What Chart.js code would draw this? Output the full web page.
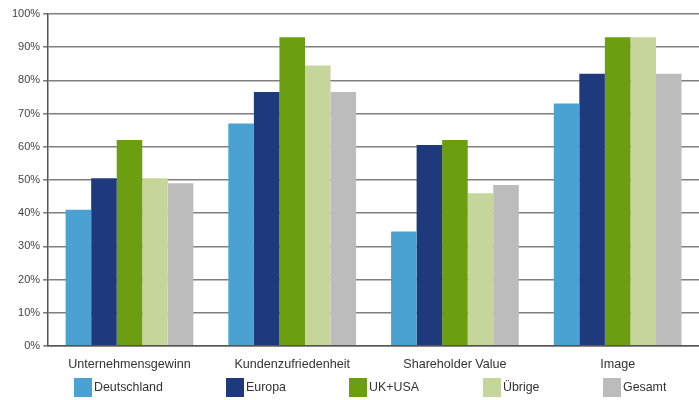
<!DOCTYPE html>
<html>
<head>
<meta charset="utf-8">
<script src="https://cdn.jsdelivr.net/npm/chart.js@4"></script>
<style>
  html, body { margin: 0; padding: 0; background: #fff; }
  #wrap { position: relative; width: 699px; height: 400px; }
  #legend { position: absolute; left: 0; top: 378px; width: 699px; height: 20px;
            font-family: 'Liberation Sans', Arial, sans-serif; font-size: 12.4px; color: #333; }
  .item { position: absolute; top: 0; height: 19px; line-height: 19px; white-space: nowrap; }
  .box { display: inline-block; width: 18px; height: 19px; vertical-align: top; margin-right: 2px; }
</style>
</head>
<body>
<div id="wrap">
  <canvas id="chart"></canvas>
  <div id="legend"></div>
</div>
<script>
// categories and series (share in %)
var categories = ["Unternehmensgewinn", "Kundenzufriedenheit", "Shareholder Value", "Image"];
var deutschland = [41, 67, 34.5, 73];
var europa = [50.5, 76.5, 60.5, 82];
var ukUsa = [62, 93, 62, 93];
var uebrige = [50.5, 84.5, 46, 93];
var gesamt = [49, 76.5, 48.5, 82];
var yTicks = [0, 10, 20, 30, 40, 50, 60, 70, 80, 90, 100];

var seriesColors = ["#4aa2d3", "#1f3a7c", "#6b9e10", "#c6d69b", "#bcbcbc"];
var legendLeft = [74, 226, 349, 483, 603];

function makeSet(label, data, i) {
  return {
    label: label,
    data: data,
    backgroundColor: seriesColors[i],
    borderWidth: 0,
    categoryPercentage: 0.785,
    barPercentage: 1.0
  };
}

const dataChart = {
  labels: categories,
  datasets: [
    makeSet("Deutschland", deutschland, 0),
    makeSet("Europa", europa, 1),
    makeSet("UK+USA", ukUsa, 2),
    makeSet("Übrige", uebrige, 3),
    makeSet("Gesamt", gesamt, 4)
  ]
};

const config = {
  type: "bar",
  data: dataChart,
  options: {
    responsive: true,
    maintainAspectRatio: false,
    animation: false,
    layout: { padding: { top: 14, right: 0, left: 9, bottom: 25 } },
    scales: {
      x: {
        grid: { display: false },
        border: { display: true, color: "#555", width: 1.5 },
        ticks: {
          color: "#333",
          font: { family: "'Liberation Sans', Arial, sans-serif", size: 12.6 },
          padding: 3
        }
      },
      y: {
        min: 0,
        max: 100,
        afterBuildTicks: function(axis) {
          axis.ticks = yTicks.map(function(v) { return { value: v }; });
        },
        grid: { color: "#7f7f7f", lineWidth: 1.6, tickLength: 5 },
        border: { display: true, color: "#555", width: 1.5 },
        ticks: {
          color: "#444",
          font: { family: "'Liberation Sans', Arial, sans-serif", size: 11 },
          padding: 3,
          callback: function(v) { return v + "%"; }
        }
      }
    },
    plugins: {
      title: { display: false },
      tooltip: { enabled: false },
      legend: { display: false }
    }
  }
};

var chart = new Chart(document.getElementById("chart"), config);

// legend as html below the plot, built from the datasets
var legendEl = document.getElementById("legend");
dataChart.datasets.forEach(function(ds, i) {
  var item = document.createElement("div");
  item.className = "item";
  item.style.left = legendLeft[i] + "px";
  var box = document.createElement("span");
  box.className = "box";
  box.style.background = ds.backgroundColor;
  item.appendChild(box);
  item.appendChild(document.createTextNode(ds.label));
  legendEl.appendChild(item);
});
</script>
</body>
</html>
